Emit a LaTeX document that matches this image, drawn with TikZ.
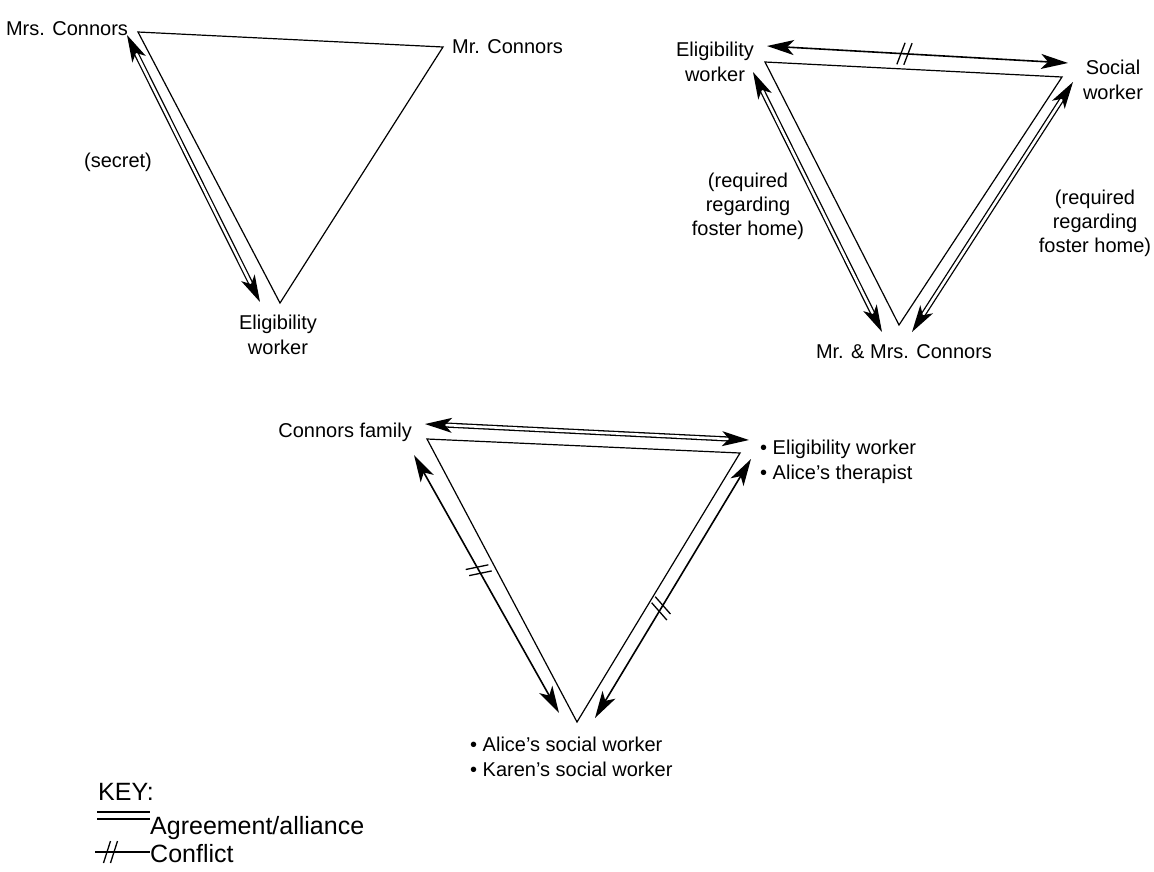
\documentclass[tikz,border=0pt]{standalone}
\usepackage{fontspec}
\setmainfont{Liberation Sans}
\usetikzlibrary{arrows.meta,decorations.markings}
\begin{document}
\begin{tikzpicture}[x=1pt,y=-1pt,
  tri/.style={line width=1.2pt, line join=miter},
  lbl/.style={font=\fontsize{20}{25}\selectfont, inner sep=0pt, align=center},
  keylbl/.style={font=\fontsize{25}{30}\selectfont, inner sep=0pt, anchor=west},
  agree/.style={double, double distance=2.6pt, line width=1.3pt,
    arrows={Stealth[length=27pt,width=15pt,inset=7pt]-Stealth[length=27pt,width=15pt,inset=7pt]}},
  oppose/.style={line width=1.6pt,
    arrows={Stealth[length=27pt,width=15pt,inset=7pt]-Stealth[length=27pt,width=15pt,inset=7pt]}},
  slash/.style={postaction={decorate,decoration={markings,mark=at position #1 with {
     \draw[-, line width=1.3pt] (-8pt,-11pt) -- (-1pt,11pt);
     \draw[-, line width=1.3pt] (-1pt,-11pt) -- (6pt,11pt);}}}}
]
\useasboundingbox (0,0) rectangle (1154,871);

% ---------- Triangle 1 ----------
\coordinate (t1a) at (138,32);
\coordinate (t1b) at (443,47);
\coordinate (t1c) at (280,303);
\draw[tri] (t1a) -- (t1b) -- (t1c) -- cycle;
\coordinate (e1a) at (127,35);
\coordinate (e1b) at (260,302);
\draw[agree] (e1a) -- (e1b);
\node[lbl] (mrs) at (67,29) {Mrs. Connors};
\node[lbl, anchor=west] (mr) at (452,47) {Mr. Connors};
\node[lbl] (secret) at (118,162) {(secret)};
\node[lbl] (elig1) at (278,335) {Eligibility\\worker};

% ---------- Triangle 2 ----------
\coordinate (t2a) at (765,62);
\coordinate (t2b) at (1062,77);
\coordinate (t2c) at (899,325);
\draw[tri] (t2a) -- (t2b) -- (t2c) -- cycle;
\coordinate (e2a) at (767,46);
\coordinate (e2b) at (1068,63);
\draw[oppose, slash=0.46] (e2a) -- (e2b);
\coordinate (e2c) at (753,72);
\coordinate (e2d) at (882,332);
\draw[agree] (e2c) -- (e2d);
\coordinate (e2e) at (1073,82);
\coordinate (e2f) at (912,332);
\draw[agree] (e2e) -- (e2f);
\node[lbl] (elig2) at (715,62) {Eligibility\\worker};
\node[lbl] (social) at (1113,80) {Social\\worker};
\node[lbl, font=\fontsize{20}{24}\selectfont] (reqL) at (748,206) {(required\\regarding\\foster home)};
\node[lbl, font=\fontsize{20}{24}\selectfont] (reqR) at (1095,223) {(required\\regarding\\foster home)};
\node[lbl] (mrmrs) at (904,352) {Mr. \& Mrs. Connors};

% ---------- Triangle 3 ----------
\coordinate (t3a) at (427,439);
\coordinate (t3b) at (740,453);
\coordinate (t3c) at (577,722);
\draw[tri] (t3a) -- (t3b) -- (t3c) -- cycle;
\coordinate (e3a) at (425,424);
\coordinate (e3b) at (749,440);
\draw[agree] (e3a) -- (e3b);
\coordinate (e3c) at (414,455);
\coordinate (e3d) at (559,713);
\draw[oppose, slash=0.45] (e3c) -- (e3d);
\coordinate (e3e) at (751,459);
\coordinate (e3f) at (595,718);
\draw[oppose, slash=0.58] (e3e) -- (e3f);
\node[lbl, anchor=east] (family) at (412,432) {Connors family};
\node[lbl, align=left, anchor=west] (workers) at (760,462) {\textbullet\ Eligibility worker\\\textbullet\ Alice's therapist};
\node[lbl, align=left, anchor=west] (social3) at (470,757) {\textbullet\ Alice's social worker\\\textbullet\ Karen's social worker};

% ---------- Key ----------
\node[keylbl] (key) at (98,792) {KEY:};
\coordinate (k1a) at (97,815.5);
\coordinate (k1b) at (150,815.5);
\draw[double, double distance=5.5pt, line width=1.5pt] (k1a) -- (k1b);
\node[keylbl] (kagree) at (150,828) {Agreement/alliance};
\coordinate (k2a) at (95,852);
\coordinate (k2b) at (150,852);
\draw[line width=1.5pt, slash=0.3] (k2a) -- (k2b);
\node[keylbl] (kconf) at (150,854) {Conflict};
\end{tikzpicture}
\end{document}
